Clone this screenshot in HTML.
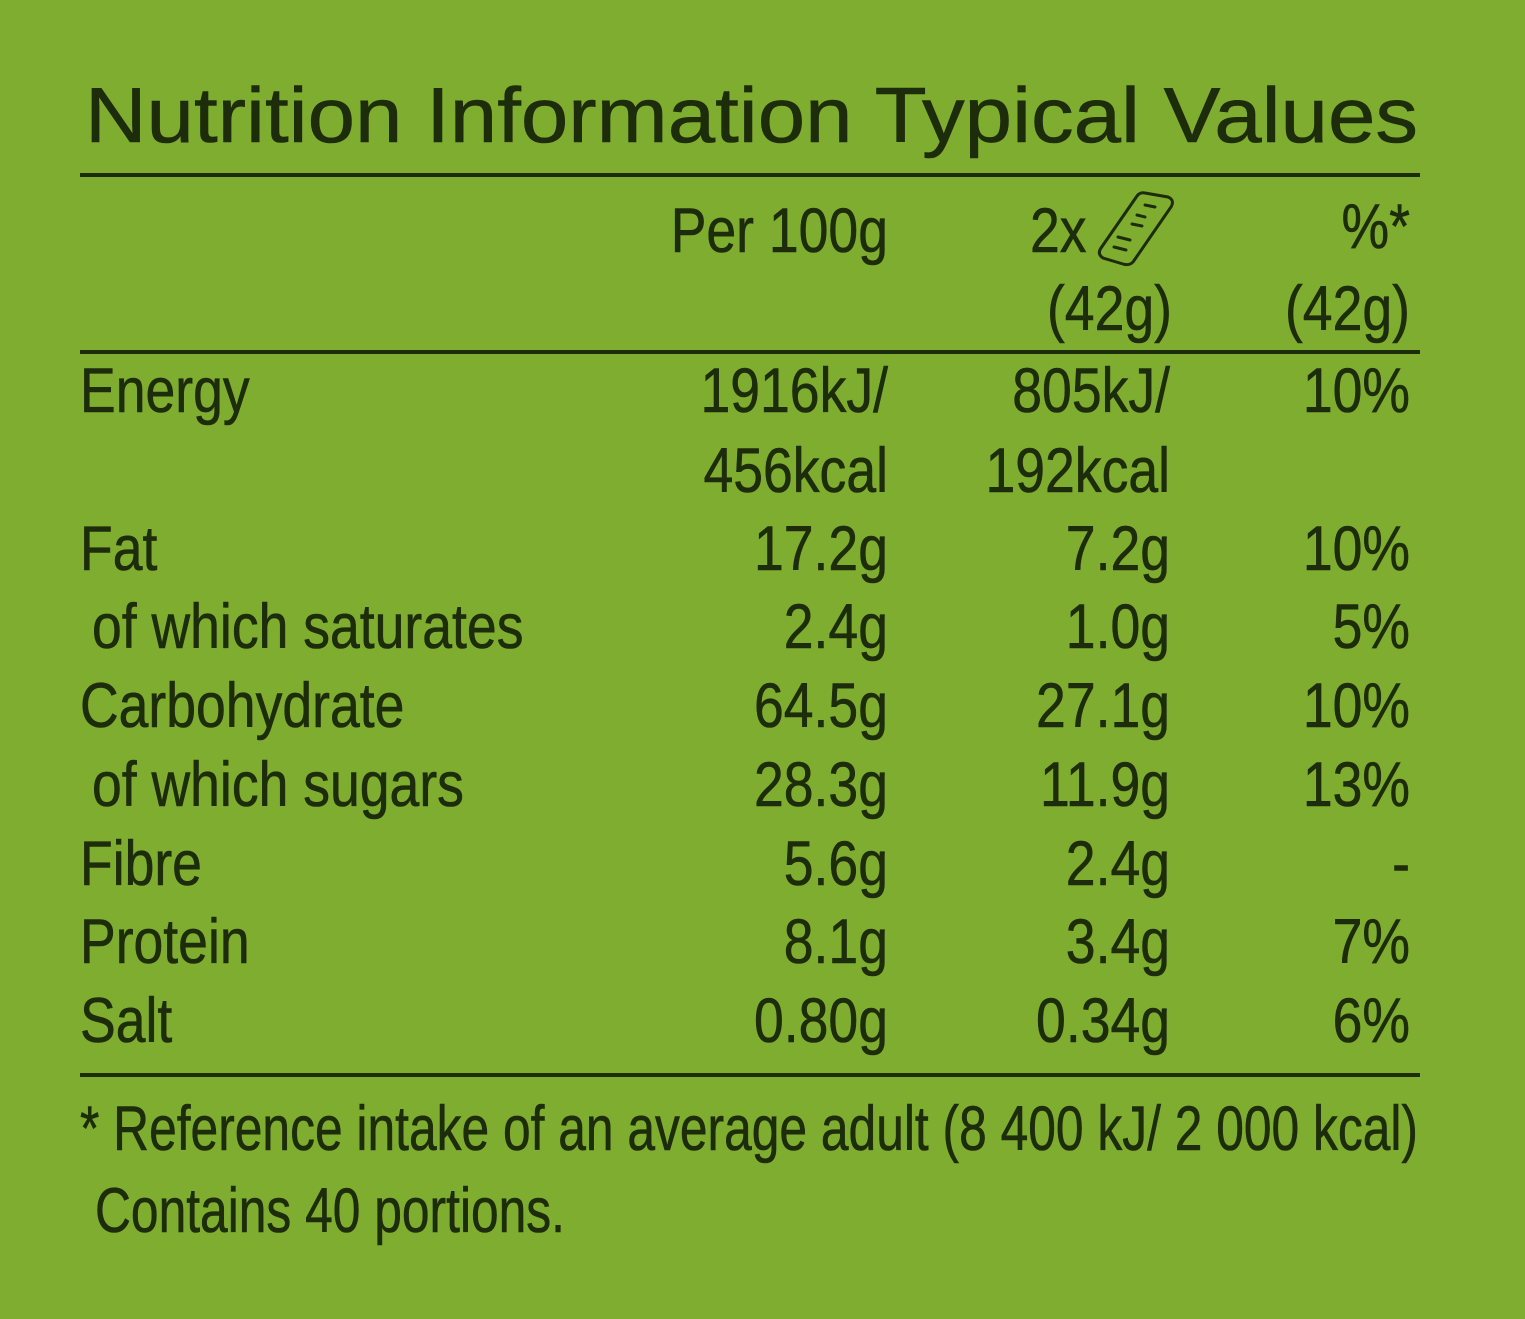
<!DOCTYPE html>
<html><head><style>
html,body{margin:0;padding:0;background:#7fad30;}
svg{display:block}
text{font-family:"Liberation Sans",sans-serif;fill:#1d2c0b;font-size:63px;stroke:#1d2c0b;stroke-width:0.6}
.r{text-anchor:end}
</style></head><body>
<svg width="1525" height="1319" viewBox="0 0 1525 1319" xmlns="http://www.w3.org/2000/svg">
<rect width="1525" height="1319" fill="#7fad30"/>
<text x="85" y="142" style="font-size:78px" textLength="1333" lengthAdjust="spacingAndGlyphs">Nutrition Information Typical Values</text>
<rect x="80" y="173" width="1340" height="4" fill="#1d2c0b"/>
<rect x="80" y="350" width="1340" height="4" fill="#1d2c0b"/>
<rect x="80" y="1073" width="1340" height="4" fill="#1d2c0b"/>
<g fill="none" stroke="#1d2c0b" stroke-width="3" stroke-linecap="round">
<path d="M1145 193 L1168 197 Q1175 200 1171 207 L1133 262 Q1129 266 1123 264 L1103 258 Q1097 254 1101 248 L1137 196 Q1140 192 1145 193 Z"/>
<path d="M1145 205 l10 2 M1137 215 l8 2 M1132 224 l10 2 M1118 237 l12 3 M1114 247 l12 3"/>
</g>
<g transform="scale(0.85 1)">
<text class="r" x="1044.7" y="252">Per 100g</text>
<text x="1211.8" y="252">2x</text>
<text class="r" x="1658.8" y="248">%*</text>
<text class="r" x="1378.8" y="330">(42g)</text>
<text class="r" x="1658.8" y="330">(42g)</text>
<text x="94.1" y="412">Energy</text><text class="r" x="1044.7" y="412">1916kJ/</text><text class="r" x="1376.5" y="412">805kJ/</text><text class="r" x="1658.8" y="412">10%</text>
<text class="r" x="1044.7" y="492">456kcal</text><text class="r" x="1376.5" y="492">192kcal</text>
<text x="94.1" y="570">Fat</text><text class="r" x="1044.7" y="570">17.2g</text><text class="r" x="1376.5" y="570">7.2g</text><text class="r" x="1658.8" y="570">10%</text>
<text x="108.2" y="648">of which saturates</text><text class="r" x="1044.7" y="648">2.4g</text><text class="r" x="1376.5" y="648">1.0g</text><text class="r" x="1658.8" y="648">5%</text>
<text x="94.1" y="727">Carbohydrate</text><text class="r" x="1044.7" y="727">64.5g</text><text class="r" x="1376.5" y="727">27.1g</text><text class="r" x="1658.8" y="727">10%</text>
<text x="108.2" y="806">of which sugars</text><text class="r" x="1044.7" y="806">28.3g</text><text class="r" x="1376.5" y="806">11.9g</text><text class="r" x="1658.8" y="806">13%</text>
<text x="94.1" y="885">Fibre</text><text class="r" x="1044.7" y="885">5.6g</text><text class="r" x="1376.5" y="885">2.4g</text><text class="r" x="1658.8" y="885">-</text>
<text x="94.1" y="963">Protein</text><text class="r" x="1044.7" y="963">8.1g</text><text class="r" x="1376.5" y="963">3.4g</text><text class="r" x="1658.8" y="963">7%</text>
<text x="94.1" y="1042">Salt</text><text class="r" x="1044.7" y="1042">0.80g</text><text class="r" x="1376.5" y="1042">0.34g</text><text class="r" x="1658.8" y="1042">6%</text>
</g>
<text x="80" y="1150" textLength="1338" lengthAdjust="spacingAndGlyphs">* Reference intake of an average adult (8 400 kJ/ 2 000 kcal)</text>
<text x="95" y="1232" textLength="470" lengthAdjust="spacingAndGlyphs">Contains 40 portions.</text>
</svg>
</body></html>
